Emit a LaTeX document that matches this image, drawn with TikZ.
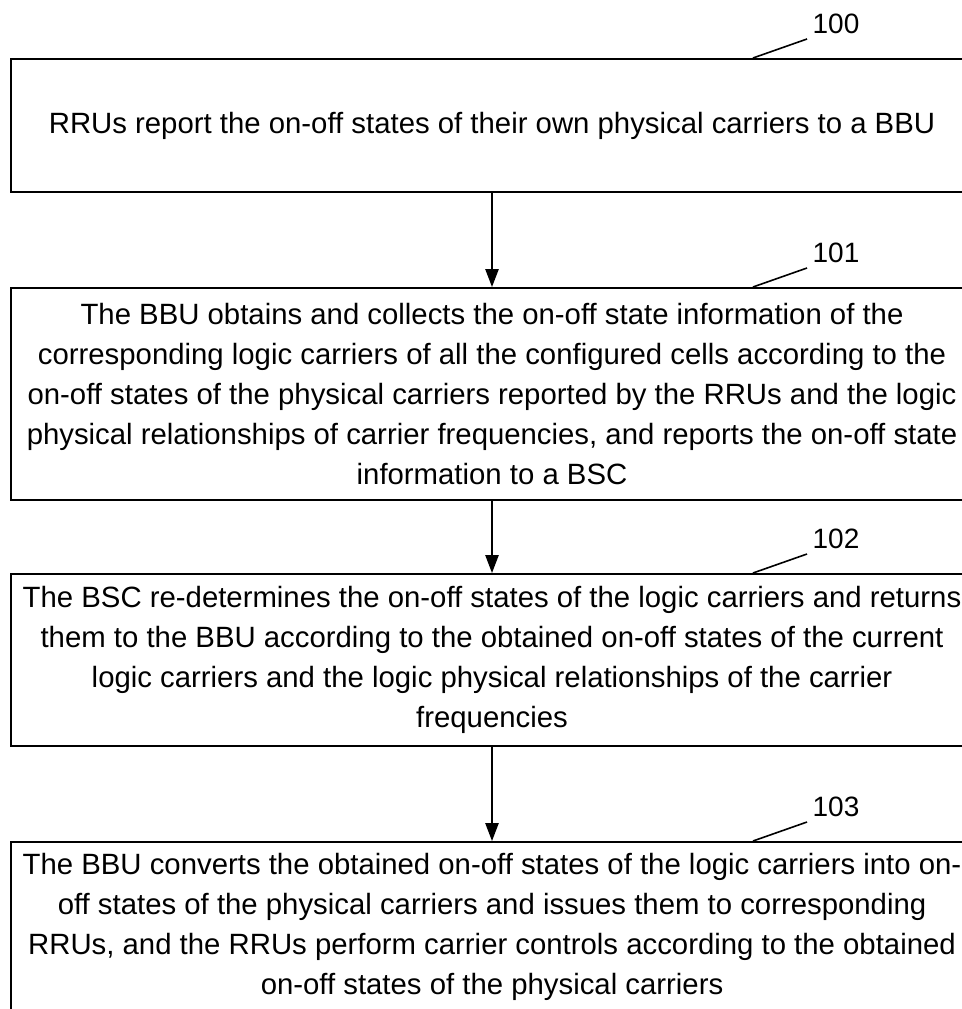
\documentclass[tikz,border=0pt]{standalone}
\usepackage{fontspec}
\setmainfont{Liberation Sans}
\usetikzlibrary{arrows.meta}
\tikzset{
	stepbox/.style={rectangle,draw,line width=1.5pt,anchor=north west,
		minimum width=721.5pt,align=center,inner sep=0pt,
		font=\fontsize{22pt}{30pt}\selectfont},
	tag/.style={font=\fontsize{21pt}{24pt}\selectfont,inner sep=0pt},
	leader/.style={-,line width=1.2pt}
}

\begin{document}
\begin{tikzpicture}[x=0.75pt,y=-0.75pt,
	    ->,>={Triangle[length=13.5pt,width=10pt]},line width=1.2pt]
	    \useasboundingbox (0,0) rectangle (962,1009);
	    \clip (0,0) rectangle (962,1009);
	    % steps
	    \node [stepbox,minimum height=99.75pt] (s100) at (10,58)
	      {RRUs report the on-off states of their own physical carriers to a BBU};
	    \node [stepbox,minimum height=159pt] (s101) at (10,287)
	      {The BBU obtains and collects the on-off state information of the\\
	       corresponding logic carriers of all the configured cells according to the\\
	       on-off states of the physical carriers reported by the RRUs and the logic\\
	       physical relationships of carrier frequencies, and reports the on-off state\\
	       information to a BSC};
	    \node [stepbox,minimum height=129pt] (s102) at (10,573)
	      {The BSC re-determines the on-off states of the logic carriers and returns\\
	       them to the BBU according to the obtained on-off states of the current\\
	       logic carriers and the logic physical relationships of the carrier\\
	       frequencies};
	    \node [stepbox,minimum height=127.5pt] (s103) at (10,841)
	      {The BBU converts the obtained on-off states of the logic carriers into on-\\
	       off states of the physical carriers and issues them to corresponding\\
	       RRUs, and the RRUs perform carrier controls according to the obtained\\
	       on-off states of the physical carriers};
	    % arrows
	    \draw (s100) -- (s101);
	    \draw (s101) -- (s102);
	    \draw (s102) -- (s103);
	    % reference numbers
	    \foreach \n/\y in {100/58,101/287,102/573,103/841}{
	      \node [tag] (t\n) at (836,\y-34) {\n};
	      \coordinate (a\n) at (753,\y);
	      \coordinate (b\n) at (807,\y-19);
	      \draw [leader] (a\n) -- (b\n);
	    }
\end{tikzpicture}
\end{document}
